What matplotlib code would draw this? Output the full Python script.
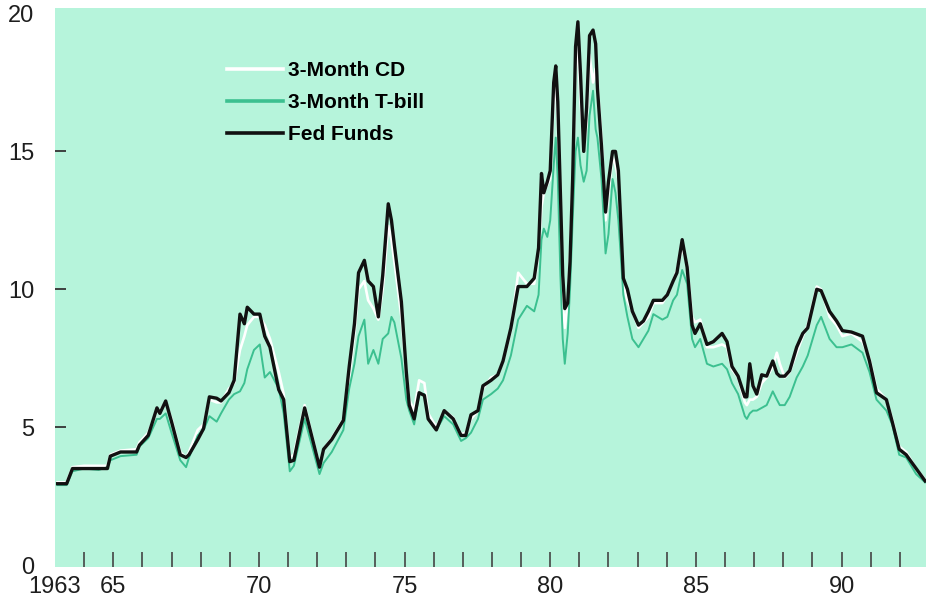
import matplotlib
matplotlib.use("Agg")
import matplotlib.pyplot as plt

# decimal years and rates (per cent)
years = [1963.09, 1963.4, 1963.6, 1964.0, 1964.5, 1964.8, 1964.9, 1965.25, 1965.8, 1965.9,
         1966.2, 1966.5, 1966.6, 1966.8, 1967.0, 1967.3, 1967.5, 1967.6, 1967.9, 1968.1,
         1968.3, 1968.55, 1968.7, 1968.97, 1969.15, 1969.35, 1969.5, 1969.6, 1969.83, 1970.03,
         1970.2, 1970.38, 1970.68, 1970.85, 1971.06, 1971.2, 1971.57, 1972.08, 1972.22, 1972.5,
         1972.9, 1973.1, 1973.28, 1973.42, 1973.62, 1973.75, 1973.93, 1974.1, 1974.25, 1974.44,
         1974.55, 1974.65, 1974.89, 1975.06, 1975.16, 1975.33, 1975.5, 1975.68, 1975.81, 1976.09,
         1976.36, 1976.67, 1976.94, 1977.1, 1977.28, 1977.52, 1977.69, 1977.97, 1978.2, 1978.38,
         1978.65, 1978.9, 1979.2, 1979.45, 1979.6, 1979.7, 1979.78, 1979.9, 1980.0, 1980.12,
         1980.19, 1980.26, 1980.35, 1980.43, 1980.5, 1980.6, 1980.68, 1980.77, 1980.87, 1980.95,
         1981.04, 1981.15, 1981.25, 1981.35, 1981.47, 1981.56, 1981.62, 1981.76, 1981.9, 1982.0,
         1982.14, 1982.24, 1982.34, 1982.51, 1982.65, 1982.82, 1983.03, 1983.2, 1983.37, 1983.54,
         1983.85, 1984.02, 1984.22, 1984.35, 1984.53, 1984.7, 1984.87, 1984.97, 1985.15, 1985.38,
         1985.6, 1985.9, 1986.07, 1986.24, 1986.45, 1986.68, 1986.75, 1986.85, 1986.96, 1987.09,
         1987.26, 1987.43, 1987.64, 1987.78, 1987.88, 1988.05, 1988.22, 1988.46, 1988.67, 1988.84,
         1989.15, 1989.3, 1989.59, 1989.83, 1990.03, 1990.34, 1990.72, 1990.96, 1991.2, 1991.54,
         1991.74, 1991.98, 1992.22, 1992.56, 1992.87]

fed_funds = [2.95, 2.95, 3.5, 3.5, 3.5, 3.5, 3.95, 4.1, 4.1, 4.35,
             4.7, 5.7, 5.5, 5.95, 5.2, 4.0, 3.9, 4.0, 4.55, 4.95,
             6.1, 6.05, 5.95, 6.25, 6.7, 9.1, 8.75, 9.35, 9.1, 9.1,
             8.3, 7.9, 6.36, 6.0, 3.75, 3.8, 5.7, 3.55, 4.2, 4.55,
             5.25, 7.2, 8.75, 10.6, 11.05, 10.3, 10.1, 9.0, 10.5, 13.1,
             12.5, 11.6, 9.55, 7.0, 5.8, 5.3, 6.25, 6.15, 5.3, 4.9,
             5.6, 5.3, 4.7, 4.7, 5.45, 5.6, 6.5, 6.7, 6.9, 7.4,
             8.6, 10.1, 10.1, 10.4, 11.5, 14.2, 13.5, 13.9, 14.3, 17.5,
             18.1, 16.8, 13.5, 10.5, 9.3, 9.5, 11.0, 14.0, 18.8, 19.7,
             17.8, 15.0, 16.6, 19.2, 19.4, 18.9, 17.3, 15.2, 12.8, 13.9,
             15.0, 15.0, 14.3, 10.4, 10.0, 9.2, 8.7, 8.85, 9.2, 9.6,
             9.6, 9.8, 10.3, 10.6, 11.8, 10.8, 8.7, 8.4, 8.75, 8.0,
             8.1, 8.4, 8.1, 7.2, 6.85, 6.1, 6.1, 7.3, 6.5, 6.2,
             6.9, 6.85, 7.4, 6.95, 6.85, 6.85, 7.05, 7.9, 8.4, 8.6,
             10.0, 9.95, 9.2, 8.85, 8.5, 8.45, 8.3, 7.4, 6.25, 6.0,
             5.2, 4.2, 4.0, 3.5, 3.05]

t_bill = [2.9, 2.9, 3.4, 3.5, 3.45, 3.55, 3.8, 3.95, 4.0, 4.3,
          4.6, 5.3, 5.3, 5.5, 4.8, 3.8, 3.55, 3.9, 4.7, 4.9,
          5.4, 5.2, 5.5, 6.0, 6.2, 6.3, 6.6, 7.1, 7.8, 8.0,
          6.8, 7.0, 6.4, 5.5, 3.4, 3.6, 5.3, 3.3, 3.7, 4.1,
          4.9, 6.4, 7.3, 8.3, 8.9, 7.3, 7.8, 7.3, 8.2, 8.4,
          9.0, 8.8, 7.5, 6.0, 5.6, 5.1, 6.2, 6.2, 5.3, 4.9,
          5.4, 5.1, 4.5, 4.6, 4.8, 5.3, 6.0, 6.2, 6.4, 6.7,
          7.6, 8.9, 9.4, 9.2, 9.8, 11.8, 12.2, 11.9, 12.5, 14.5,
          15.5, 14.0, 10.5, 8.2, 7.3, 8.4, 10.0, 12.5, 15.0, 15.5,
          14.5, 13.9, 14.3, 16.3, 17.2, 15.8, 15.5, 14.0, 11.3, 12.0,
          14.0, 13.5, 12.5, 9.8, 9.0, 8.2, 7.9, 8.2, 8.5, 9.1,
          8.9, 9.0, 9.6, 9.8, 10.7, 10.2, 8.2, 7.9, 8.2, 7.3,
          7.2, 7.3, 7.1, 6.6, 6.2, 5.4, 5.3, 5.5, 5.6, 5.6,
          5.7, 5.8, 6.3, 6.0, 5.8, 5.8, 6.1, 6.8, 7.2, 7.6,
          8.7, 9.0, 8.2, 7.9, 7.9, 8.0, 7.7, 7.0, 6.0, 5.6,
          5.1, 4.0, 3.9, 3.3, 3.0]

cd_3m = [3.0, 3.0, 3.55, 3.6, 3.6, 3.6, 4.0, 4.15, 4.2, 4.45,
         4.8, 5.6, 5.6, 5.9, 5.3, 4.1, 3.9, 4.1, 4.9, 5.1,
         6.0, 5.9, 5.9, 6.4, 6.6, 7.8, 8.3, 8.7, 9.0, 9.0,
         8.7, 8.2, 7.0, 6.2, 3.9, 4.0, 5.8, 3.6, 4.2, 4.6,
         5.3, 6.8, 8.4, 10.0, 10.3, 9.6, 9.3, 8.9, 10.0, 12.3,
         11.8, 11.0, 9.0, 7.0, 6.0, 5.6, 6.7, 6.6, 5.5, 5.0,
         5.6, 5.35, 4.75, 4.8, 5.3, 5.6, 6.4, 6.8, 6.9, 7.4,
         8.5, 10.6, 10.2, 10.2, 11.3, 13.0, 13.5, 13.8, 14.0, 16.8,
         17.5, 16.0, 12.5, 9.5, 8.6, 9.5, 11.3, 14.0, 18.0, 18.8,
         16.8, 15.2, 16.0, 18.5, 17.5, 18.0, 17.5, 15.5, 12.5, 13.5,
         14.8, 14.5, 14.0, 10.2, 9.6, 9.2, 8.6, 8.8, 9.0, 9.5,
         9.5, 9.8, 10.3, 10.7, 11.5, 10.9, 9.0, 8.8, 8.9, 7.9,
         7.9, 8.0, 7.9, 7.1, 6.8, 5.9, 5.8, 6.0, 6.0, 6.1,
         6.6, 6.8, 7.2, 7.7, 7.3, 6.8, 7.0, 7.7, 8.3, 8.7,
         10.1, 10.0, 9.0, 8.7, 8.3, 8.4, 8.1, 7.5, 6.4, 6.0,
         5.3, 4.3, 4.1, 3.5, 3.1]

label_years = [1963, 1965, 1970, 1975, 1980, 1985, 1990]
label_text = ['1963', '65', '70', '75', '80', '85', '90']
tick_years = list(range(1964, 1993))
y_ticks = [0, 5, 10, 15, 20]

plt.rcParams['font.family'] = ['Liberation Sans', 'DejaVu Sans']

fig = plt.figure(figsize=(9.26, 5.98), dpi=100)
ax = fig.add_axes([55 / 926, 31 / 598, 871 / 926, 559 / 598])
ax.set_facecolor('#b6f4db')

ax.plot(years, cd_3m, color='white', lw=1.9, label='3-Month CD')
ax.plot(years, t_bill, color='#3cc090', lw=1.4, label='3-Month T-bill')
ax.plot(years, fed_funds, color='#111111', lw=2.4, label='Fed Funds')

ax.set_xlim(1963.0, 1992.9)
ax.set_ylim(-0.07, 20.2)
for s in ax.spines.values():
    s.set_visible(False)

# x axis: labels without marks, one mark inside per year
ax.xaxis.remove_overlapping_locs = False
ax.set_xticks(label_years)
ax.set_xticklabels(label_text)
ax.set_xticks(tick_years, minor=True)
ax.tick_params(axis='x', which='major', length=0, pad=6.5, labelsize=17, labelcolor='#1e1e1e')
ax.tick_params(axis='x', which='minor', direction='in', length=11, width=1.2, color='#444444')

ax.set_yticks(y_ticks)
ax.tick_params(axis='y', direction='in', length=8, width=1.3, color='#333333',
               pad=15, labelsize=17, labelcolor='#1e1e1e')
yt = ax.yaxis.get_major_ticks()
yt[0].tick1line.set_visible(False)
yt[-1].tick1line.set_visible(False)

leg = ax.legend(loc='upper left', bbox_to_anchor=(227 / 926, 1 - 61 / 598),
                bbox_transform=fig.transFigure, frameon=False,
                prop={'weight': 'bold', 'size': 15}, handlelength=2.7,
                handletextpad=0.25, labelspacing=0.62, borderpad=0, borderaxespad=0)
for h in leg.get_lines():
    h.set_linewidth(2.6)

fig.savefig('out.png', dpi=100)
